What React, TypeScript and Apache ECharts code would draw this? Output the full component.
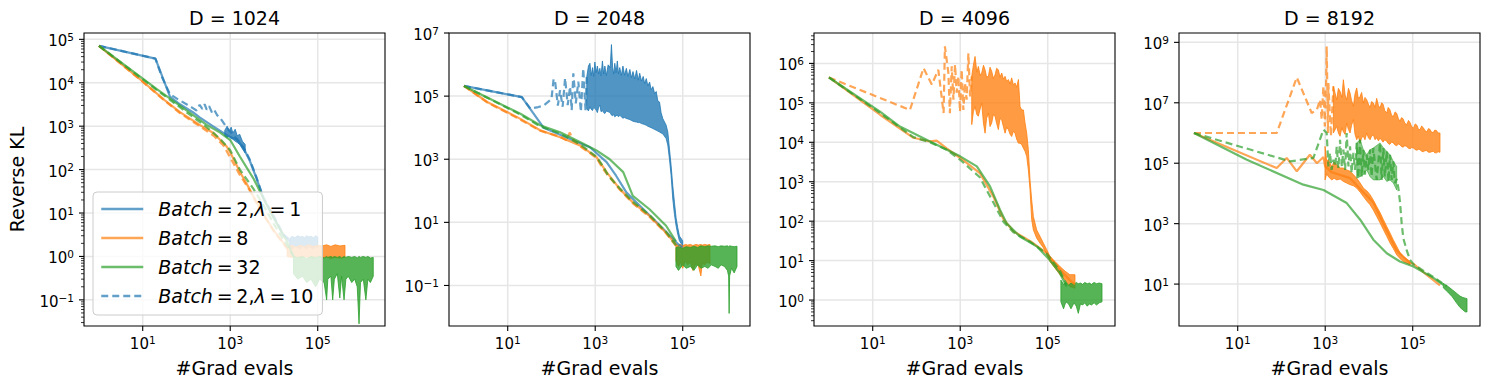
import React, { useEffect, useRef } from 'react';
import * as echarts from 'echarts';

const FONT = 'DejaVu Sans';
const BLUE = 'rgba(31,119,180,0.7)';
const ORANGE = 'rgba(255,127,14,0.7)';
const GREEN = 'rgba(44,160,44,0.7)';
const BLUE_BAND = 'rgba(31,119,180,0.78)';
const ORANGE_BAND = 'rgba(255,127,14,0.78)';
const GREEN_BAND = 'rgba(44,160,44,0.8)';
const GREEN_BAND_LIGHT = 'rgba(44,160,44,0.55)';
const GRID_COLOR = '#e6e6e6';

// ---------- texts / ticks ----------
const TITLES = ['D = 1024', 'D = 2048', 'D = 4096', 'D = 8192'];
const X_NAME = '#Grad evals';
const Y_NAME = 'Reverse KL';
const N_B2 = 'Batch = 2, λ = 1';
const N_B8 = 'Batch = 8';
const N_B32 = 'Batch = 32';
const N_B2L = 'Batch = 2, λ = 10';
const N_B8L = 'Batch = 8, λ = 10';
const N_B32L = 'Batch = 32, λ = 10';
const LEGEND_NAMES = [N_B2, N_B8, N_B32, N_B2L];
const X_TICK_EXPS = [1, 3, 5];
const Y_TICK_EXPS = [
  [-1, 0, 1, 2, 3, 4, 5],
  [-1, 1, 3, 5, 7],
  [0, 1, 2, 3, 4, 5, 6],
  [1, 3, 5, 7, 9],
];
const Y_MINOR = [true, false, true, false];
const MINOR_MULTS = [2, 3, 4, 5, 6, 7, 8, 9];
const X_RANGE = [0.455, 3.45e6];
const Y_RANGES = [
  [0.025, 1.4e5],
  [0.0052, 1e7],
  [0.22, 5.9e6],
  [0.41, 2.04e9],
];

// ---------- D = 1024 ----------
const p1B2 = [[1, 7.1e4], [19.5, 3.6e4], [42, 4.8e3], [71, 3.2e3], [140, 2.1e3], [200, 1.6e3], [400, 1.0e3], [700, 700], [1000, 560], [1400, 500], [2000, 320], [2800, 160], [4000, 63], [5700, 22], [9800, 8], [1.6e4, 3.2], [2.3e4, 2.2]];
const p1B2Noise = [[750, 800, 600], [850, 1000, 550], [950, 750, 600], [1050, 950, 520], [1150, 700, 500], [1300, 850, 450], [1450, 600, 420], [1650, 650, 380], [1900, 450, 300], [2200, 380, 240]];
const p1B2Plateau = [[2.3e4, 2.6, 1.6], [2.6e4, 2.9, 1.5], [3e4, 2.7, 1.7], [3.5e4, 3.0, 1.6], [4e4, 2.8, 1.5], [4.5e4, 2.9, 1.7], [5e4, 2.7, 1.6], [5.6e4, 3.0, 1.5], [6.3e4, 2.8, 1.7], [7e4, 2.9, 1.6], [8e4, 2.7, 1.5], [9e4, 3.0, 1.7], [1e5, 2.8, 1.6]];
const p1B2L = [[1, 7.1e4], [19.5, 3.6e4], [28, 1.3e4], [42, 5.5e3], [63, 4.2e3], [100, 3.2e3], [140, 2.6e3], [170, 2.3e3], [200, 3.1e3], [230, 2.5e3], [260, 3.2e3], [290, 2.4e3], [330, 2.9e3], [380, 2.1e3], [430, 2.4e3], [500, 1.8e3], [600, 1.5e3], [700, 1.2e3], [830, 950], [1000, 750], [1400, 520], [2000, 330], [2800, 170], [4000, 65], [5700, 23], [1e4, 8.3], [1.6e4, 3.3], [2.3e4, 2.4]];
const p1B8 = [[1, 7.1e4], [10, 1.07e4], [31.6, 4e3], [71, 2.1e3], [200, 1.07e3], [420, 690], [830, 340], [1000, 250], [1660, 89], [2800, 35], [4800, 12.6], [9800, 4], [2e4, 1.6]];
const p1B8L = [[1, 7.1e4], [10, 1.05e4], [31.6, 3.9e3], [71, 2.0e3], [200, 1.0e3], [420, 600], [700, 360], [1000, 190], [1600, 80], [2800, 33], [4800, 12], [1e4, 3.8], [2e4, 1.5]];
const p1B8Plateau = [[2e4, 1.6, 1.0], [2.5e4, 1.8, 0.95], [3.2e4, 1.65, 1.0], [4e4, 1.8, 0.9], [5e4, 1.7, 1.0], [6.3e4, 1.85, 0.95], [8e4, 1.7, 0.9], [1e5, 1.8, 1.0], [1.26e5, 1.75, 0.92], [1.6e5, 1.85, 0.97], [2e5, 1.7, 0.9], [2.5e5, 1.85, 0.95], [3.2e5, 1.75, 0.92], [4.2e5, 1.8, 0.95]];
const p1B32 = [[1, 7.1e4], [21, 7.1e3], [100, 2.3e3], [290, 1.07e3], [600, 700], [1000, 480], [1660, 200], [3400, 62], [6000, 20], [1e4, 7.5], [2e4, 2.2], [2.8e4, 1.0]];
const p1B32L = [[1, 7.1e4], [21, 6.8e3], [100, 2.1e3], [290, 950], [600, 500], [1000, 280], [1660, 100], [3400, 36], [6000, 14], [1e4, 5.5], [2e4, 1.8], [2.8e4, 1.0]];
const p1B32Plateau = [[2.8e4, 1.0, 0.4], [3.5e4, 0.95, 0.3], [4.5e4, 1.0, 0.35], [5.6e4, 0.9, 0.25], [7e4, 1.0, 0.3], [9e4, 0.95, 0.2], [1.1e5, 1.0, 0.3], [1.4e5, 0.92, 0.25], [1.6e5, 1.0, 0.1], [1.7e5, 0.95, 0.3], [2e5, 1.0, 0.35], [2.2e5, 0.95, 0.1], [2.4e5, 1.0, 0.3], [2.8e5, 0.95, 0.4], [3.2e5, 1.0, 0.11], [3.5e5, 0.92, 0.35], [4e5, 1.0, 0.1], [4.4e5, 0.95, 0.3], [5e5, 1.0, 0.35], [6e5, 0.95, 0.25], [7e5, 1.0, 0.3], [8e5, 0.92, 0.2], [8.8e5, 1.0, 0.028], [9.5e5, 0.95, 0.25], [1.1e6, 1.0, 0.3], [1.26e6, 0.95, 0.1], [1.4e6, 1.0, 0.3], [1.6e6, 0.92, 0.25], [1.86e6, 0.95, 0.35]];

// ---------- D = 2048 ----------
const p2B2 = [[1, 2.1e5], [21, 9.3e4], [66, 1e4], [158, 6e3], [447, 3.2e3], [757, 2.4e3], [1820, 810], [3000, 300], [5150, 89], [8700, 43], [2e4, 14], [4.5e4, 4.5], [8e4, 2], [1e5, 1.6]];
const p2B2L = [[1, 2.1e5], [21, 9.3e4], [33, 4e4], [50, 4.5e4], [66, 5e4], [100, 8e4], [112, 3.5e5], [121, 2.9e5], [140, 5e4], [157, 1.55e5], [180, 4.6e4], [205, 3.7e5], [235, 5.2e4], [266, 2e5], [290, 3.6e4], [316, 5.3e5], [360, 5.9e4], [411, 2.9e5], [470, 3.2e4], [533, 7.6e5], [600, 3.6e4], [640, 4e5]];
const p2B2LNoise = [[640, 4e5, 4e4], [700, 9e5, 3.4e4], [757, 1.1e6, 4.6e4], [810, 4.5e5, 3.8e4], [870, 8e5, 3.5e4], [925, 4.2e5, 4.4e4], [982, 1.2e6, 4.1e4], [1050, 5.5e5, 3.6e4], [1120, 9e5, 3e4], [1200, 5e5, 4.5e4], [1276, 7.6e5, 5.2e4], [1360, 4.4e5, 3.2e4], [1460, 1.3e6, 3.5e4], [1560, 5e5, 3e4], [1660, 9e5, 2.8e4], [1800, 4.5e5, 3.4e4], [1974, 9.8e5, 3.2e4], [2200, 8e5, 3e4], [2350, 4.3e6, 2.5e4], [2500, 8e5, 2.4e4], [2650, 5e5, 2.6e4], [2800, 1.1e6, 2.2e4], [3000, 5.5e5, 2.4e4], [3200, 1.3e6, 2.5e4], [3400, 5e5, 2.2e4], [3640, 8e5, 2.5e4], [3950, 4.5e5, 2.2e4], [4300, 9e5, 2e4], [4700, 4.6e5, 2.1e4], [5150, 7.6e5, 1.95e4], [5600, 4.2e5, 1.9e4], [6200, 7e5, 1.8e4], [6700, 3.8e5, 1.7e4], [7310, 6e5, 1.6e4], [8000, 3.5e5, 1.55e4], [8800, 6.5e5, 1.5e4], [9600, 3.2e5, 1.45e4], [1.04e4, 5.3e5, 1.45e4], [1.14e4, 3e5, 1.35e4], [1.25e4, 4.2e5, 1.3e4], [1.35e4, 2.5e5, 1.25e4], [1.47e4, 3.6e5, 1.2e4], [1.6e4, 2.1e5, 1.1e4], [1.75e4, 2.8e5, 1.05e4], [1.9e4, 1.6e5, 1e4], [2.08e4, 2e5, 9.4e3], [2.28e4, 1.2e5, 8.8e3], [2.48e4, 1.4e5, 8.3e3], [2.7e4, 7e4, 7.8e3], [2.95e4, 6.5e4, 7.3e3], [3.2e4, 3e4, 6.8e3], [3.5e4, 1.95e4, 6.4e3], [4.18e4, 1.2e4, 4.5e3], [4.56e4, 7.3e3, 2.8e3], [4.98e4, 2.1e3, 1e3], [5.43e4, 630, 300], [5.93e4, 145, 55], [6.47e4, 43, 18], [7.05e4, 14, 7.8], [7.7e4, 6.8, 4.2], [8.4e4, 3.7, 2.6], [1e5, 2.6, 1.8]];
const p2B8 = [[1, 2.1e5], [3.4, 6.5e4], [19.5, 1.9e4], [55, 8.3e3], [158, 5e3], [447, 2.75e3], [1070, 1.17e3], [1820, 390], [3630, 115], [7240, 43], [1.74e4, 16], [4.17e4, 4.7], [7e4, 2.0]];
const p2B8L = [[1, 2.1e5], [3.4, 6.3e4], [19.5, 1.8e4], [55, 8e3], [158, 5.2e3], [220, 4e3], [263, 7e3], [300, 4.5e3], [447, 2.6e3], [1070, 1.1e3], [1500, 500], [1820, 350], [3630, 110], [7240, 40], [1.74e4, 15], [4.17e4, 4.5], [7e4, 1.8]];
const p2B8Plateau = [[7e4, 2.0, 0.6], [8e4, 1.9, 0.4], [9e4, 2.0, 0.55], [1e5, 1.8, 0.35], [1.15e5, 2.0, 0.6], [1.3e5, 1.9, 0.45], [1.5e5, 2.0, 0.55], [1.7e5, 1.85, 0.3], [2e5, 2.0, 0.5], [2.3e5, 1.9, 0.4], [2.6e5, 2.0, 0.2], [2.8e5, 1.9, 0.5], [3.2e5, 2.0, 0.45], [3.6e5, 1.9, 0.55], [4.2e5, 2.0, 0.5]];
const p2B32 = [[1, 2.1e5], [19.5, 2.75e4], [55, 1.2e4], [158, 7.2e3], [447, 3.5e3], [1070, 1.9e3], [2140, 1.0e3], [4370, 390], [7240, 69], [1.74e4, 26], [4.17e4, 7.8], [7e4, 2.5]];
const p2B32L = [[1, 2.1e5], [19.5, 2.6e4], [55, 1.1e4], [158, 6.5e3], [447, 3e3], [1070, 1.2e3], [1500, 600], [2000, 300], [3630, 120], [7240, 45], [1.74e4, 17], [4.17e4, 5], [7e4, 1.9]];
const p2B32Plateau = [[7e4, 1.6, 0.4], [8e4, 1.7, 0.3], [1e5, 1.5, 0.45], [1.2e5, 1.7, 0.35], [1.5e5, 1.6, 0.4], [1.8e5, 1.75, 0.3], [2.2e5, 1.6, 0.45], [2.6e5, 1.8, 0.35], [3.2e5, 1.7, 0.4], [3.8e5, 1.8, 0.35], [4.5e5, 1.75, 0.45], [5.5e5, 1.8, 0.4], [6.5e5, 1.7, 0.35], [7.5e5, 1.8, 0.45], [9e5, 1.75, 0.4], [1.05e6, 1.8, 0.3], [1.12e6, 1.7, 0.2], [1.15e6, 1.75, 0.013], [1.18e6, 1.8, 0.2], [1.3e6, 1.75, 0.35], [1.5e6, 1.7, 0.25], [1.74e6, 1.75, 0.4]];

// ---------- D = 4096 ----------
const p3B8 = [[1, 4.4e5], [14.7, 5e4], [85, 1.3e4], [204, 1.05e4], [290, 1.1e4], [490, 7e3], [1000, 4e3], [2800, 1.66e3], [5700, 425], [9800, 110], [1.66e4, 55], [4e4, 31], [9.5e4, 15.5], [1.9e5, 5.9], [3.2e5, 3.2], [4.2e5, 2.5]];
const p3B8L = [[1, 4.4e5], [71, 6.6e4], [145, 7.6e5], [224, 2.9e5], [316, 6.9e5], [417, 5.5e4], [447, 2.7e6], [537, 5.7e5], [580, 5.5e4], [640, 8.4e5], [700, 1.2e5], [762, 9.3e5], [830, 1.8e5], [908, 4.7e5], [990, 6e4], [1080, 6.9e5], [1180, 6.6e4], [1288, 3.2e5], [1400, 1.2e5], [1537, 1.8e6], [1680, 1.45e5], [1833, 4.7e5]];
const p3B8LNoise = [[1833, 4.7e5, 2.8e4], [2000, 9e5, 6e4], [2183, 1.5e6, 8.1e4], [2400, 6e5, 5e4], [2600, 8.4e5, 4.6e4], [2850, 5e5, 7e4], [3097, 5.7e5, 9.8e4], [3400, 9e5, 3e4], [3698, 6.9e5, 1.7e4], [4000, 4.5e5, 4e4], [4406, 4.7e5, 5.5e4], [4800, 8e5, 2.5e4], [5248, 6.3e5, 3.1e4], [5700, 4.2e5, 5e4], [6252, 5.1e5, 4.6e4], [6800, 7.5e5, 3e4], [7447, 6.9e5, 2.1e4], [8100, 4.5e5, 4e4], [8892, 5.7e5, 3.7e4], [9700, 4e5, 2.5e4], [1.06e4, 4.7e5, 1.7e4], [1.15e4, 3.5e5, 2.4e4], [1.26e4, 3.9e5, 2.1e4], [1.38e4, 3e5, 1.6e4], [1.5e4, 4.3e5, 1.4e4], [1.65e4, 2.8e5, 1.9e4], [1.79e4, 3.2e5, 1.7e4], [1.95e4, 2.5e5, 1.2e4], [2.14e4, 3.9e5, 9.5e3], [2.33e4, 8.1e4, 9.5e3], [2.55e4, 6.6e4, 8.7e3], [2.78e4, 6.6e4, 7.1e3], [3.03e4, 3.1e4, 5.9e3], [3.31e4, 1.7e4, 4.4e3], [3.61e4, 6.5e3, 2e3], [3.94e4, 1.1e3, 630], [4.3e4, 350, 110], [4.7e4, 132, 60], [5.6e4, 60, 37], [6.7e4, 41, 27.5], [8e4, 27.5, 21], [9.5e4, 19, 14], [1.13e5, 12.6, 9.5], [1.47e5, 9.5, 6.5], [1.9e5, 7.1, 4.4], [2.5e5, 5.4, 3.2], [3.2e5, 4.4, 2.2], [4.2e5, 4.4, 2.0]];
const p3B32 = [[1, 4.4e5], [14.7, 6e4], [42, 2.5e4], [204, 1.05e4], [1000, 4.4e3], [2400, 2.45e3], [4800, 760], [8100, 195], [1.15e4, 89], [2.3e4, 41], [5.6e4, 23], [1.1e5, 10.5], [1.9e5, 4.8], [2.7e5, 2.2]];
const p3B32L = [[1, 4.4e5], [14.7, 5.5e4], [85, 1.35e4], [204, 1.0e4], [490, 6.5e3], [1000, 3.6e3], [2800, 1.3e3], [5700, 300], [9800, 95], [1.66e4, 52], [4e4, 30], [9.5e4, 15], [1.9e5, 5.5], [2.7e5, 2.5]];
const p3B32Plateau = [[2e5, 3.2, 0.9], [2.3e5, 2.5, 0.6], [2.6e5, 2.8, 0.9], [3e5, 2.4, 0.8], [3.4e5, 2.7, 0.6], [4e5, 2.5, 0.85], [4.5e5, 2.8, 0.7], [5e5, 2.6, 0.46], [5.6e5, 2.7, 0.8], [6.3e5, 2.5, 0.75], [7e5, 2.8, 0.85], [8e5, 2.6, 0.7], [9e5, 2.7, 0.8], [1e6, 2.5, 0.75], [1.15e6, 2.8, 0.85], [1.3e6, 2.6, 0.75], [1.5e6, 2.7, 0.85], [1.74e6, 2.6, 0.9]];

// ---------- D = 8192 ----------
const p4B8 = [[1, 1e6], [78, 6.9e4], [132, 1.5e5], [224, 5.4e4], [447, 1.9e5], [646, 1e5], [912, 1.6e5], [991, 8e4], [1410, 5e4], [3698, 3.2e4], [7447, 1.1e4], [1.26e4, 5e3], [2.14e4, 1e3], [4.3e4, 130], [8.7e4, 50], [1.04e5, 47], [2.09e5, 20], [4.2e5, 9]];
const p4B8Noise = [[991, 3.6e5, 2.8e4], [1080, 1.2e5, 4.5e4], [1180, 1.3e5, 3.6e4], [1410, 7.8e4, 2.8e4], [1600, 1.1e5, 3.2e4], [1832, 8.9e4, 2.8e4], [2200, 7e4, 3e4], [2600, 6.9e4, 2.5e4], [3100, 6e4, 2.2e4], [3698, 5.4e4, 1.95e4], [4400, 4.2e4, 1.8e4], [5248, 3.2e4, 1.5e4], [6300, 2.2e4, 1.1e4], [7447, 1.5e4, 7.9e3], [9000, 1.2e4, 5.5e3], [1.06e4, 9.1e3, 4.2e3], [1.26e4, 6e3, 2.8e3], [1.5e4, 3.7e3, 1.74e3], [1.8e4, 2.3e3, 1.05e3], [2.14e4, 1.35e3, 630], [2.55e4, 800, 380], [3.03e4, 490, 230], [3.6e4, 290, 150], [4.3e4, 178, 93], [5.1e4, 110, 70], [6.1e4, 81, 56], [8.7e4, 56, 44]];
const p4B8L = [[1, 1e6], [78, 1e6], [224, 6.9e7], [490, 4.6e6], [646, 5.9e6], [762, 1.26e7], [830, 2.8e6], [908, 3.5e7], [980, 1.66e6], [1050, 5e7], [1081, 7.4e8], [1110, 5e7], [1150, 1e6], [1180, 4.5e7], [1350, 7.8e5], [1537, 3.5e7]];
const p4B8LNoise = [[1537, 3.5e7, 1e6], [1832, 1.26e7, 1.66e6], [2000, 3e7, 1e6], [2183, 2.4e7, 7.8e5], [2400, 1.5e7, 1.5e6], [2600, 5.8e7, 1.1e6], [2850, 1.8e7, 9e5], [3097, 1.26e7, 2.1e6], [3400, 3e7, 1.3e6], [3698, 2.1e7, 1e6], [4000, 1.2e7, 1.8e6], [4406, 7.6e6, 2.8e6], [4800, 2e7, 9e5], [5248, 3.1e7, 6e5], [5700, 1.4e7, 8e5], [6252, 1.6e7, 4.7e5], [6800, 2.2e7, 7e5], [7447, 9.8e6, 7.8e5], [8100, 1.5e7, 6e5], [8892, 1.26e7, 1e6], [9700, 9e6, 7e5], [1.06e4, 7e6, 6e5], [1.15e4, 1.1e7, 8e5], [1.26e4, 9.8e6, 8.7e5], [1.38e4, 7e6, 6e5], [1.5e4, 1.4e7, 7e5], [1.65e4, 8e6, 5.5e5], [1.79e4, 6.8e6, 6.8e5], [1.95e4, 1e7, 5.8e5], [2.1e4, 9e6, 5e5], [2.3e4, 5.5e6, 6e5], [2.55e4, 4.6e6, 5.3e5], [2.75e4, 7e6, 4.5e5], [3e4, 6e6, 4.2e5], [3.3e4, 3.8e6, 5e5], [3.61e4, 3.5e6, 4.7e5], [3.95e4, 5e6, 4e5], [4.3e4, 4.5e6, 3.8e5], [4.7e4, 3e6, 4.3e5], [5.13e4, 2.4e6, 4.1e5], [5.5e4, 3.2e6, 3.6e5], [6e4, 3e6, 3.4e5], [6.6e4, 2.1e6, 3.8e5], [7.3e4, 1.9e6, 3.6e5], [8e4, 2.6e6, 3.1e5], [8.7e4, 2.2e6, 3e5], [9.5e4, 1.6e6, 3.3e5], [1.04e5, 1.45e6, 3.2e5], [1.14e5, 2e6, 2.8e5], [1.25e5, 1.8e6, 2.7e5], [1.36e5, 1.3e6, 2.9e5], [1.47e5, 1.3e6, 2.8e5], [1.6e5, 1.7e6, 2.5e5], [1.75e5, 1.5e6, 2.4e5], [1.9e5, 1.2e6, 2.6e5], [2.09e5, 1.1e6, 2.6e5], [2.3e5, 1.4e6, 2.3e5], [2.5e5, 1.3e6, 2.3e5], [2.7e5, 1.05e6, 2.4e5], [2.97e5, 1.05e6, 2.5e5], [3.2e5, 1.25e6, 2.2e5], [3.5e5, 1.2e6, 2.2e5], [3.8e5, 1e6, 2.4e5], [4.2e5, 1e6, 2.3e5]];
const p4B32 = [[1, 1e6], [16.2, 1.3e5], [316, 1.95e4], [912, 1.3e4], [3100, 4.8e3], [6300, 1.35e3], [1.26e4, 295], [2.55e4, 105], [5.1e4, 56], [1.04e5, 38], [2.97e5, 16], [5e5, 9.5]];
const p4B32Tail = [[5e5, 10.5, 7.5], [6.3e5, 8.5, 5.5], [8e5, 6.5, 3.8], [1e6, 5, 2.4], [1.2e6, 4, 1.7], [1.4e6, 3.6, 1.4], [1.6e6, 3.4, 1.2], [1.74e6, 3.3, 1.2]];
const p4B32L = [[1, 1e6], [158, 1.15e5], [537, 1.5e5], [912, 1.3e6], [1081, 1e6], [1180, 7.8e4], [1288, 2.2e5], [1400, 6e4], [1537, 1.3e5], [1700, 7.8e4], [1832, 3.6e5], [2000, 6.9e4], [2183, 6e5], [2400, 7.8e4], [2600, 2.8e5], [2850, 6e4], [3097, 1e6], [3400, 7.8e4], [3698, 3.6e5], [4000, 4.7e4], [4406, 2.2e5], [4800, 6e4], [5248, 4.7e5], [5700, 3.2e4], [6252, 6e5], [6800, 3.6e4], [7447, 2.8e5], [8100, 4.2e4], [8892, 1.9e5], [9700, 6e4], [1.06e4, 2.8e5], [1.15e4, 3.6e4], [1.26e4, 3.2e5], [1.5e4, 2.8e4], [1.79e4, 4.7e5], [1.95e4, 2.8e4], [2.14e4, 3.2e5], [2.3e4, 3.6e4], [2.55e4, 2.5e5], [2.8e4, 2.5e4], [3.03e4, 1.9e5], [3.3e4, 2.8e4], [3.61e4, 1.15e5], [3.9e4, 2.2e4], [4.3e4, 3e4], [4.7e4, 1.5e4], [5.13e4, 5e3], [5.6e4, 1e3], [6.1e4, 330], [7.3e4, 130], [8.7e4, 63], [1.04e5, 45], [2.97e5, 17], [6e5, 8.5]];
const p4B32LNoise = [[5248, 4.7e5, 3.2e4], [6252, 6e5, 3.6e4], [7447, 2.8e5, 4.2e4], [8892, 1.9e5, 6e4], [1.06e4, 2.8e5, 3.6e4], [1.26e4, 3.2e5, 2.8e4], [1.79e4, 4.7e5, 2.8e4], [2.14e4, 3.2e5, 3.6e4], [2.55e4, 2.5e5, 2.5e4], [3.03e4, 1.9e5, 2.8e4], [3.61e4, 1.15e5, 2.2e4], [4.3e4, 7.8e4, 1.3e4]];

type Spec = { name: string; color: string; band: string; dash: boolean; lines: number[][][]; bands: number[][][] };

const PANEL_SERIES: Spec[][] = [
  [
    { name: N_B2, color: BLUE, band: BLUE_BAND, dash: false, lines: [p1B2], bands: [p1B2Noise, p1B2Plateau] },
    { name: N_B2L, color: BLUE, band: BLUE_BAND, dash: true, lines: [p1B2L], bands: [] },
    { name: N_B8, color: ORANGE, band: ORANGE_BAND, dash: false, lines: [p1B8], bands: [p1B8Plateau] },
    { name: N_B8L, color: ORANGE, band: ORANGE_BAND, dash: true, lines: [p1B8L], bands: [] },
    { name: N_B32, color: GREEN, band: GREEN_BAND, dash: false, lines: [p1B32], bands: [p1B32Plateau] },
    { name: N_B32L, color: GREEN, band: GREEN_BAND, dash: true, lines: [p1B32L], bands: [] },
  ],
  [
    { name: N_B2, color: BLUE, band: BLUE_BAND, dash: false, lines: [p2B2], bands: [] },
    { name: N_B2L, color: BLUE, band: BLUE_BAND, dash: true, lines: [p2B2L], bands: [p2B2LNoise] },
    { name: N_B8, color: ORANGE, band: ORANGE_BAND, dash: false, lines: [p2B8], bands: [p2B8Plateau] },
    { name: N_B8L, color: ORANGE, band: ORANGE_BAND, dash: true, lines: [p2B8L], bands: [] },
    { name: N_B32, color: GREEN, band: GREEN_BAND, dash: false, lines: [p2B32], bands: [p2B32Plateau] },
    { name: N_B32L, color: GREEN, band: GREEN_BAND, dash: true, lines: [p2B32L], bands: [] },
  ],
  [
    { name: N_B8, color: ORANGE, band: ORANGE_BAND, dash: false, lines: [p3B8], bands: [] },
    { name: N_B8L, color: ORANGE, band: ORANGE_BAND, dash: true, lines: [p3B8L], bands: [p3B8LNoise] },
    { name: N_B32, color: GREEN, band: GREEN_BAND, dash: false, lines: [p3B32], bands: [p3B32Plateau] },
    { name: N_B32L, color: GREEN, band: GREEN_BAND, dash: true, lines: [p3B32L], bands: [] },
  ],
  [
    { name: N_B8, color: ORANGE, band: ORANGE_BAND, dash: false, lines: [p4B8], bands: [p4B8Noise] },
    { name: N_B8L, color: ORANGE, band: ORANGE_BAND, dash: true, lines: [p4B8L], bands: [p4B8LNoise] },
    { name: N_B32, color: GREEN, band: GREEN_BAND, dash: false, lines: [p4B32], bands: [p4B32Tail] },
    { name: N_B32L, color: GREEN, band: GREEN_BAND_LIGHT, dash: true, lines: [p4B32L], bands: [p4B32LNoise] },
  ],
];

// ---------- layout ----------
const GRID_LEFT = [84, 449, 814, 1179];
const GRID_TOP = 33;
const GRID_W = 301;
const GRID_H = 293;

const TICK_RICH = {
  b: { fontSize: 15, fontFamily: FONT, color: '#000', lineHeight: 16, padding: [4, 0, 0, 0] },
  s: { fontSize: 10.5, fontFamily: FONT, color: '#000', lineHeight: 11, padding: [0, 0, 4.6, 0] },
};

function expLabel(v: number, allowed: number[]) {
  const l = Math.log10(v);
  const e = Math.round(l);
  if (Math.abs(l - e) > 1e-6 || allowed.indexOf(e) < 0) return '';
  const s = e < 0 ? '\u2212' + -e : String(e);
  return '{b|10}{s|' + s + '}';
}

// mathtext-like spacing: thin spaces around "=", none after the comma
function legendFmt(name: string) {
  const t = name.replace(', ', ',').split(' = ').join('\u2009=\u2009');
  return '{g|}' + t.replace('Batch', '{i|Batch}').replace('λ', '{i|λ}');
}

function gridLineSeries(i: number) {
  const [y0, y1] = Y_RANGES[i];
  const xt = X_TICK_EXPS.map((e) => Math.pow(10, e));
  const yt = Y_TICK_EXPS[i].map((e) => Math.pow(10, e));
  return {
    type: 'custom', xAxisIndex: i, yAxisIndex: i, silent: true, z: 1, clip: false,
    data: [[xt[0], yt[0]]],
    renderItem: (params: any, api: any) => {
      const children: any[] = [];
      xt.forEach((v) => {
        const a = api.coord([v, y0]);
        const b = api.coord([v, y1]);
        children.push({ type: 'line', shape: { x1: a[0], y1: a[1], x2: b[0], y2: b[1] }, style: { stroke: GRID_COLOR, lineWidth: 1.5 } });
      });
      yt.forEach((v) => {
        const a = api.coord([X_RANGE[0], v]);
        const b = api.coord([X_RANGE[1], v]);
        children.push({ type: 'line', shape: { x1: a[0], y1: a[1], x2: b[0], y2: b[1] }, style: { stroke: GRID_COLOR, lineWidth: 1.5 } });
      });
      return { type: 'group', children };
    },
  };
}

function frameSeries(i: number) {
  const [y0, y1] = Y_RANGES[i];
  const xt = X_TICK_EXPS.map((e) => Math.pow(10, e));
  const yt = Y_TICK_EXPS[i].map((e) => Math.pow(10, e));
  const minor: number[] = [];
  if (Y_MINOR[i]) {
    for (let e = Math.floor(Math.log10(y0)); e <= Math.ceil(Math.log10(y1)); e++) {
      MINOR_MULTS.forEach((m) => {
        const v = m * Math.pow(10, e);
        if (v > y0 && v < y1) minor.push(v);
      });
    }
  }
  return {
    type: 'custom', xAxisIndex: i, yAxisIndex: i, silent: true, z: 3, clip: false,
    data: [[xt[0], yt[0]]],
    renderItem: (params: any, api: any) => {
      const tl = api.coord([X_RANGE[0], y1]);
      const br = api.coord([X_RANGE[1], y0]);
      const children: any[] = [
        { type: 'rect', shape: { x: tl[0], y: tl[1], width: br[0] - tl[0], height: br[1] - tl[1] }, style: { fill: 'none', stroke: '#000', lineWidth: 1.1 } },
      ];
      xt.forEach((v) => {
        const a = api.coord([v, y0]);
        children.push({ type: 'line', shape: { x1: a[0], y1: a[1], x2: a[0], y2: a[1] + 5 }, style: { stroke: '#000', lineWidth: 1.1 } });
      });
      yt.forEach((v) => {
        const a = api.coord([X_RANGE[0], v]);
        children.push({ type: 'line', shape: { x1: a[0], y1: a[1], x2: a[0] - 5, y2: a[1] }, style: { stroke: '#000', lineWidth: 1.1 } });
      });
      minor.forEach((v) => {
        const a = api.coord([X_RANGE[0], v]);
        children.push({ type: 'line', shape: { x1: a[0], y1: a[1], x2: a[0] - 3, y2: a[1] }, style: { stroke: '#000', lineWidth: 0.8 } });
      });
      return { type: 'group', children };
    },
  };
}

function bandSeries(i: number, band: number[][], color: string) {
  return {
    type: 'custom', xAxisIndex: i, yAxisIndex: i, silent: true, z: 2, clip: true,
    data: band,
    renderItem: (params: any, api: any) => {
      if (params.dataIndex !== 0) return null;
      const up = band.map((b) => api.coord([b[0], b[1]]));
      const lo = band.map((b) => api.coord([b[0], b[2]])).reverse();
      return { type: 'polygon', shape: { points: up.concat(lo) }, style: { fill: color, stroke: color, lineWidth: 1 } };
    },
  };
}

function buildOption() {
  const grid: any[] = [];
  const xAxis: any[] = [];
  const yAxis: any[] = [];
  const series: any[] = [];
  const title: any[] = [];
  PANEL_SERIES.forEach((specs, i) => {
    grid.push({ left: GRID_LEFT[i], top: GRID_TOP, width: GRID_W, height: GRID_H, containLabel: false, outerBoundsMode: 'none' });
    xAxis.push({
      type: 'log', logBase: 10, gridIndex: i, min: X_RANGE[0], max: X_RANGE[1],
      axisLine: { show: false }, axisTick: { show: false }, splitLine: { show: false },
      minorTick: { show: false }, minorSplitLine: { show: false },
      axisLabel: { margin: 8, formatter: (v: number) => expLabel(v, X_TICK_EXPS), rich: TICK_RICH },
      name: X_NAME, nameLocation: 'middle', nameGap: 32,
      nameTextStyle: { fontSize: 19, fontFamily: FONT, color: '#000', lineHeight: 20 },
    });
    yAxis.push({
      type: 'log', logBase: 10, gridIndex: i, min: Y_RANGES[i][0], max: Y_RANGES[i][1],
      axisLine: { show: false }, axisTick: { show: false }, splitLine: { show: false },
      minorTick: { show: false }, minorSplitLine: { show: false },
      axisLabel: { margin: 10, formatter: (v: number) => expLabel(v, Y_TICK_EXPS[i]), rich: TICK_RICH },
      name: i === 0 ? Y_NAME : '', nameLocation: 'middle', nameGap: 57,
      nameTextStyle: { fontSize: 19, fontFamily: FONT, color: '#000', lineHeight: 20 },
    });
    title.push({
      text: TITLES[i], left: GRID_LEFT[i] + GRID_W / 2, top: 8, textAlign: 'center', padding: 0,
      textStyle: { fontSize: 19, fontWeight: 'normal', fontFamily: FONT, color: '#000', lineHeight: 20 },
    });
    series.push(gridLineSeries(i));
    specs.forEach((s) => {
      s.lines.forEach((pts) => {
        series.push({
          type: 'line', name: s.name, xAxisIndex: i, yAxisIndex: i, data: pts,
          showSymbol: false, symbol: 'none', z: 2, clip: true, silent: true,
          lineStyle: { color: s.color, width: 2.2, type: s.dash ? [7, 4] : 'solid' },
          itemStyle: { color: s.color },
          emphasis: { disabled: true },
        });
      });
      s.bands.forEach((b) => series.push(bandSeries(i, b, s.band)));
    });
    series.push(frameSeries(i));
  });
  return {
    animation: false,
    backgroundColor: '#fff',
    title, grid, xAxis, yAxis, series,
    legend: {
      data: LEGEND_NAMES, orient: 'vertical', left: 93, top: 192,
      itemWidth: 42, itemHeight: 14, itemGap: 7, padding: [6, 9, 8, 7],
      backgroundColor: 'rgba(255,255,255,0.8)', borderColor: '#cccccc', borderWidth: 1, borderRadius: 4,
      selectedMode: false,
      itemStyle: { color: 'rgba(0,0,0,0)', borderColor: 'rgba(0,0,0,0)', borderWidth: 0, opacity: 0 },
      lineStyle: { width: 2.5 },
      formatter: legendFmt,
      textStyle: {
        fontSize: 19, fontFamily: FONT, color: '#000', lineHeight: 22,
        rich: {
          g: { width: 10 },
          i: { fontSize: 19, fontFamily: FONT, fontStyle: 'italic', color: '#000', lineHeight: 22 },
        },
      },
    },
  };
}

export default function App() {
  const ref = useRef<HTMLDivElement>(null);
  useEffect(() => {
    const chart = echarts.init(ref.current as HTMLDivElement, null, { renderer: 'svg' });
    chart.setOption(buildOption() as any);
    return () => chart.dispose();
  }, []);
  return <div ref={ref} style={{ position: 'fixed', left: 0, top: 0, width: 1489, height: 390, background: '#fff' }} />;
}
